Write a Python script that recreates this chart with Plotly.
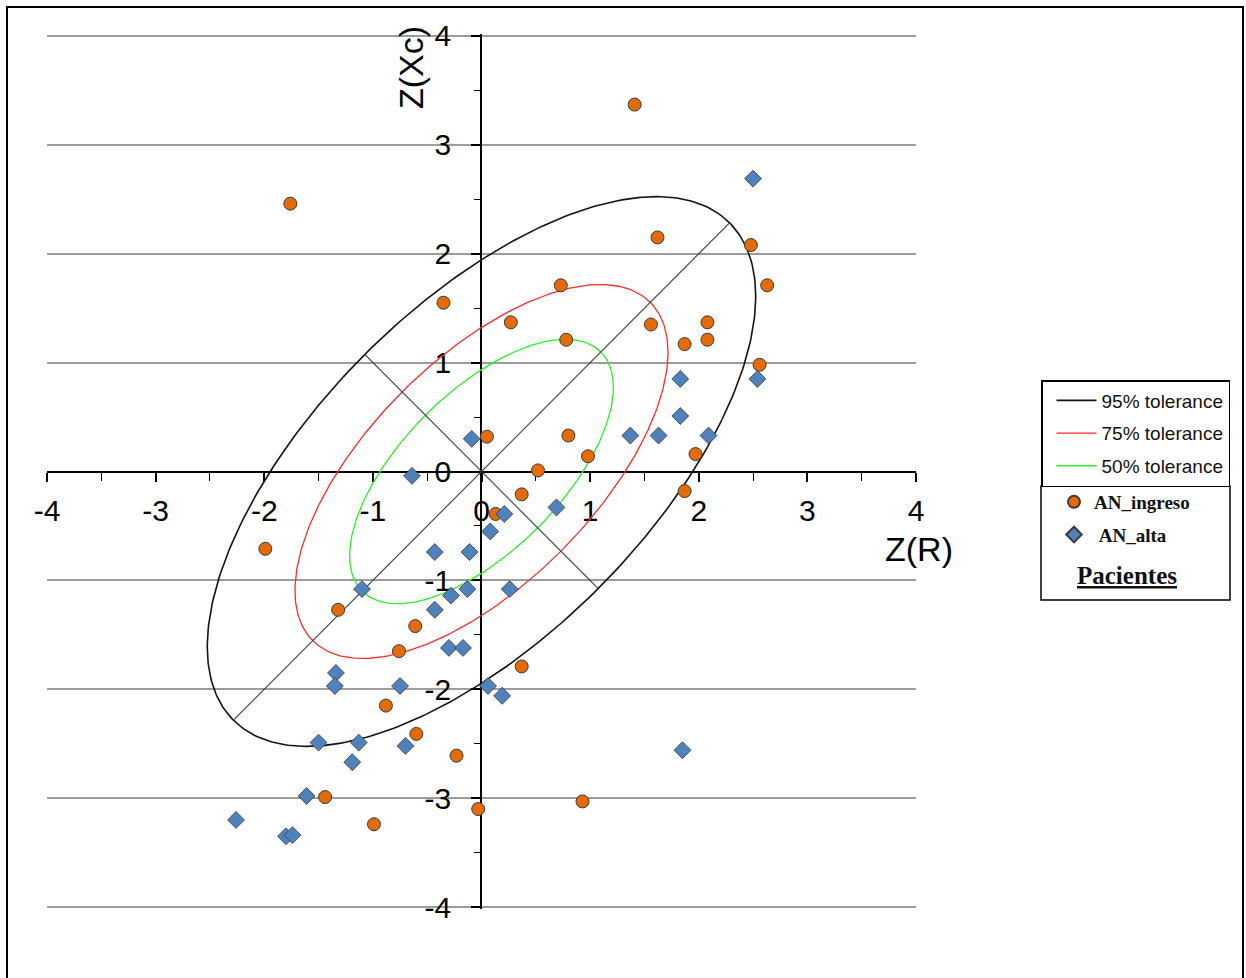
import numpy as np
import plotly.graph_objects as go

# ---------------- data ----------------
ingreso_x = [1.41, -1.76, 1.62, 2.48, 2.63, 0.73, -0.35, 0.27, 1.56, 2.08, 0.78, 1.87,
             2.08, 2.56, 0.05, 0.80, 1.97, 0.98, 0.52, 0.37, 1.87, 0.13, -1.99, -1.32,
             -0.61, -0.76, 0.37, -0.88, -0.60, -0.23, -1.44, -0.03, 0.93, -0.99]
ingreso_y = [3.37, 2.46, 2.15, 2.08, 1.71, 1.71, 1.55, 1.37, 1.35, 1.37, 1.21, 1.17,
             1.21, 0.98, 0.32, 0.33, 0.16, 0.14, 0.01, -0.21, -0.18, -0.39, -0.71, -1.27,
             -1.42, -1.65, -1.79, -2.15, -2.41, -2.61, -2.99, -3.10, -3.03, -3.24]

alta_x = [2.50, 1.83, 2.54, 1.83, -0.09, 1.37, 1.63, 2.09, -0.64, 0.69, 0.21, 0.08,
          -0.43, -0.11, -1.10, -0.28, -0.13, 0.26, -0.43, -0.30, -0.17, -1.34, -1.35,
          -0.75, 0.06, 0.19, 1.85, -1.50, -1.13, -0.70, -1.19, -1.61, -2.26, -1.80, -1.74]
alta_y = [2.69, 0.85, 0.85, 0.51, 0.30, 0.33, 0.33, 0.33, -0.04, -0.33, -0.39, -0.55,
          -0.74, -0.74, -1.08, -1.14, -1.08, -1.08, -1.27, -1.62, -1.62, -1.85, -1.97,
          -1.97, -1.97, -2.06, -2.56, -2.49, -2.49, -2.52, -2.67, -2.98, -3.20, -3.35, -3.34]

tolerance_names = ["95% tolerance", "75% tolerance", "50% tolerance"]
tolerance_probs = [0.95, 0.75, 0.50]
tolerance_colors = ["#141414", "#FF2A2A", "#2AF02A"]
tolerance_widths = [1.6, 1.3, 1.3]

semi_major_95 = 3.23
semi_minor_95 = 1.52
angle_deg = 45.0

tick_vals = [-4, -3, -2, -1, 0, 1, 2, 3, 4]
tick_text = ["-4", "-3", "-2", "-1", "0", "1", "2", "3", "4"]

# ---------------- helpers ----------------
W, H = 1246, 978
def px(x):
    return x / W
def py(y):
    return 1 - y / H

theta = np.deg2rad(angle_deg)
t = np.linspace(0, 2 * np.pi, 361)

fig = go.Figure()

ref = np.sqrt(-2 * np.log(1 - 0.95))
for name, p, col, lw in zip(tolerance_names, tolerance_probs, tolerance_colors,
                            tolerance_widths):
    k = np.sqrt(-2 * np.log(1 - p)) / ref
    a, b = semi_major_95 * k, semi_minor_95 * k
    u, v = a * np.cos(t), b * np.sin(t)
    ex = u * np.cos(theta) - v * np.sin(theta)
    ey = u * np.sin(theta) + v * np.cos(theta)
    fig.add_trace(go.Scatter(x=ex, y=ey, mode="lines", name=name,
                             line=dict(color=col, width=lw),
                             legend="legend", legendgroup=name, hoverinfo="skip"))

# major and minor axes of the 95% ellipse
for length, ang in [(semi_major_95, theta), (semi_minor_95, theta + np.pi / 2)]:
    fig.add_trace(go.Scatter(x=[-length * np.cos(ang), length * np.cos(ang)],
                             y=[-length * np.sin(ang), length * np.sin(ang)],
                             mode="lines", line=dict(color="#3a3a3a", width=1.1),
                             showlegend=False, hoverinfo="skip"))

fig.add_trace(go.Scatter(x=ingreso_x, y=ingreso_y, mode="markers", name="AN_ingreso",
                         marker=dict(symbol="circle", size=13, color="#E36C09",
                                     line=dict(color="#3a3a3a", width=1)),
                         legend="legend2", legendgroup="g1"))
fig.add_trace(go.Scatter(x=alta_x, y=alta_y, mode="markers", name="\u00a0AN_alta",
                         marker=dict(symbol="diamond", size=13, color="#4F81BD",
                                     line=dict(color="#3a3a3a", width=0.8)),
                         legend="legend2", legendgroup="g2"))

tickfont = dict(family="Liberation Sans, Arial", size=30, color="#000000")

fig.update_layout(
    width=W, height=H,
    margin=dict(l=0, r=0, t=0, b=0, autoexpand=False),
    paper_bgcolor="white", plot_bgcolor="white",
    xaxis=dict(domain=[px(47), px(916)], range=[-4, 4], anchor="free",
               position=py(472), showgrid=False, zeroline=False,
               showline=True, linecolor="#000000", linewidth=1.5,
               tickvals=tick_vals, ticktext=tick_text, ticks="outside",
               ticklen=9, tickwidth=1.5, tickcolor="#000000",
               minor=dict(ticks="outside", dtick=0.5, ticklen=8, tickwidth=1.3,
                          tickcolor="#000000", showgrid=False),
               tickfont=tickfont, ticklabelstandoff=3, layer="below traces"),
    yaxis=dict(domain=[py(909.2), py(33.8)], range=[-4.02, 4.02], anchor="free",
               position=px(481), showgrid=True, gridcolor="#9C9C9C", gridwidth=1.5,
               zeroline=False, showline=True, linecolor="#000000", linewidth=1.5,
               tickvals=tick_vals, ticktext=tick_text, ticks="outside",
               ticklen=9, tickwidth=1.5, tickcolor="#000000",
               minor=dict(ticks="outside", dtick=0.5, ticklen=6, tickwidth=1.3,
                          tickcolor="#000000", showgrid=False),
               tickfont=tickfont, ticklabelstandoff=14, layer="below traces"),
    legend=dict(x=px(1041), y=py(380), xanchor="left", yanchor="top",
                bgcolor="white", bordercolor="#000000", borderwidth=1.5,
                font=dict(family="Liberation Sans, Arial", size=19, color="#111111"),
                tracegroupgap=5, itemwidth=40, indentation=9),
    legend2=dict(x=px(1054), y=py(483), xanchor="left", yanchor="top",
                 bgcolor="rgba(0,0,0,0)", borderwidth=0,
                 font=dict(family="Liberation Serif, Times New Roman", size=19,
                           color="#111111", weight="bold"),
                 tracegroupgap=5, itemsizing="constant"),
    showlegend=True,
)

annos = [
    dict(text="Z(R)", x=px(919), y=py(549), xref="paper", yref="paper",
         showarrow=False, xanchor="center", yanchor="middle",
         font=dict(family="Liberation Sans, Arial", size=34, color="#000000")),
    dict(text="Z(Xc)", x=px(411), y=py(68), xref="paper", yref="paper",
         showarrow=False, xanchor="center", yanchor="middle", textangle=-90,
         font=dict(family="Liberation Sans, Arial", size=34, color="#000000")),
    dict(text="<b><u>Pacientes</u></b>", x=px(1127), y=py(575), xref="paper",
         yref="paper", showarrow=False, xanchor="center", yanchor="middle",
         font=dict(family="Liberation Serif, Times New Roman", size=25,
                   color="#111111")),
]
fig.update_layout(annotations=annos)

fig.add_shape(type="rect", xref="paper", yref="paper",
              x0=px(1041), x1=px(1230), y0=py(600), y1=py(486),
              line=dict(color="#000000", width=1.5))
fig.add_shape(type="rect", xref="paper", yref="paper",
              x0=px(7), x1=px(1243), y0=py(990), y1=py(7),
              line=dict(color="#000000", width=2))

fig.write_html("out.html")
